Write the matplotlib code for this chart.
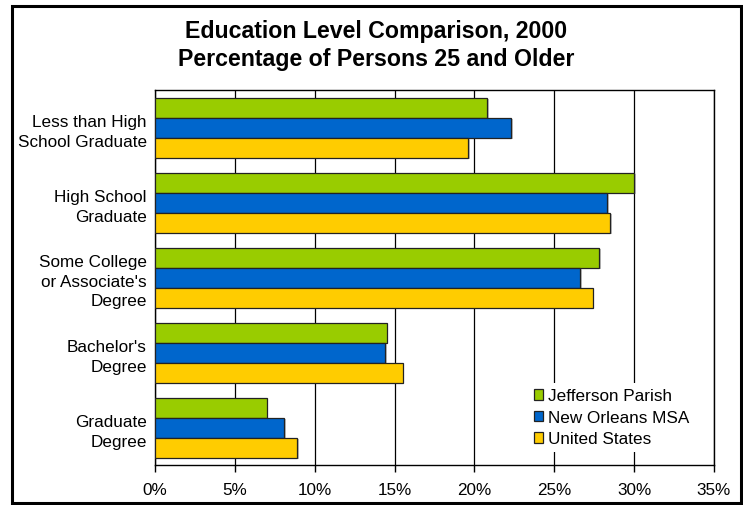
import matplotlib
matplotlib.use("Agg")
import matplotlib.pyplot as plt
import matplotlib.patheffects as pe
from matplotlib.patches import Rectangle
import numpy as np

plt.rcParams['font.family'] = ['Liberation Sans', 'DejaVu Sans']

categories = ["Less than High\nSchool Graduate", "High School\nGraduate",
              "Some College\nor Associate's\nDegree", "Bachelor's\nDegree",
              "Graduate\nDegree"]
series_names = ["Jefferson Parish", "New Orleans MSA", "United States"]
jefferson = [20.8, 30.0, 27.8, 14.5, 7.0]
new_orleans = [22.3, 28.3, 26.6, 14.4, 8.1]
united_states = [19.6, 28.5, 27.4, 15.5, 8.9]
colors = ["#99CC00", "#0066CC", "#FFCC00"]
x_ticks = [0, 5, 10, 15, 20, 25, 30, 35]
x_tick_labels = ["0%", "5%", "10%", "15%", "20%", "25%", "30%", "35%"]
title = "Education Level Comparison, 2000\nPercentage of Persons 25 and Older"

fig = plt.figure(figsize=(7.43, 5.06), dpi=100)
ax = fig.add_axes([155 / 743, 1 - 466 / 506, (714 - 155) / 743, (466 - 91.3) / 506])

# outer chart frame
fig.patches.append(Rectangle((11.5 / 743, 1 - 504 / 506), (741 - 11.5) / 743, (504 - 6.5) / 506,
                             transform=fig.transFigure, fill=False, edgecolor="black",
                             linewidth=2.2, zorder=10))

y = np.arange(len(categories))
bar_h = 0.8 / 3
shadow = [pe.SimplePatchShadow(offset=(1.2, -1.2), shadow_rgbFace="#b0b0b0", alpha=0.8), pe.Normal()]
for k, (vals, name) in enumerate(zip([jefferson, new_orleans, united_states], series_names)):
    ax.barh(y - bar_h + k * bar_h, vals, height=bar_h, color=colors[k], edgecolor="#222222",
            linewidth=0.9, label=name, zorder=3, path_effects=shadow)

ax.set_xlim(0, 35)
ax.set_ylim(len(categories) - 0.5, -0.5)
ax.set_xticks(x_ticks)
ax.set_xticklabels(x_tick_labels, fontsize=12.3)
ax.set_yticks(y)
ax.set_yticklabels(categories, fontsize=12.3)
for lbl in ax.get_yticklabels():
    lbl.set_linespacing(1.38)
ax.tick_params(axis="y", length=0, pad=6)
ax.tick_params(axis="x", length=5, width=1, pad=7, direction="out")
ax.xaxis.grid(True, color="black", linewidth=0.9)
ax.set_axisbelow(True)
for s in ax.spines.values():
    s.set_linewidth(1.0)
    s.set_color("black")

leg = ax.legend(loc="upper left", bbox_to_anchor=(0.668, 0.218), fontsize=12.3,
                frameon=True, fancybox=False, edgecolor="none", facecolor="white",
                framealpha=1, handlelength=0.58, handleheight=0.58, handletextpad=0.25,
                labelspacing=0.38, borderpad=0.3, borderaxespad=0)
for h in leg.legend_handles:
    h.set_path_effects([])
    h.set_edgecolor("#222222")
leg.set_zorder(5)

fig.text(376.5 / 743, 1 - 45.5 / 506, title, ha="center", va="center",
         fontsize=16.7, fontweight="bold", linespacing=1.27)

fig.savefig("out.png", dpi=100)
